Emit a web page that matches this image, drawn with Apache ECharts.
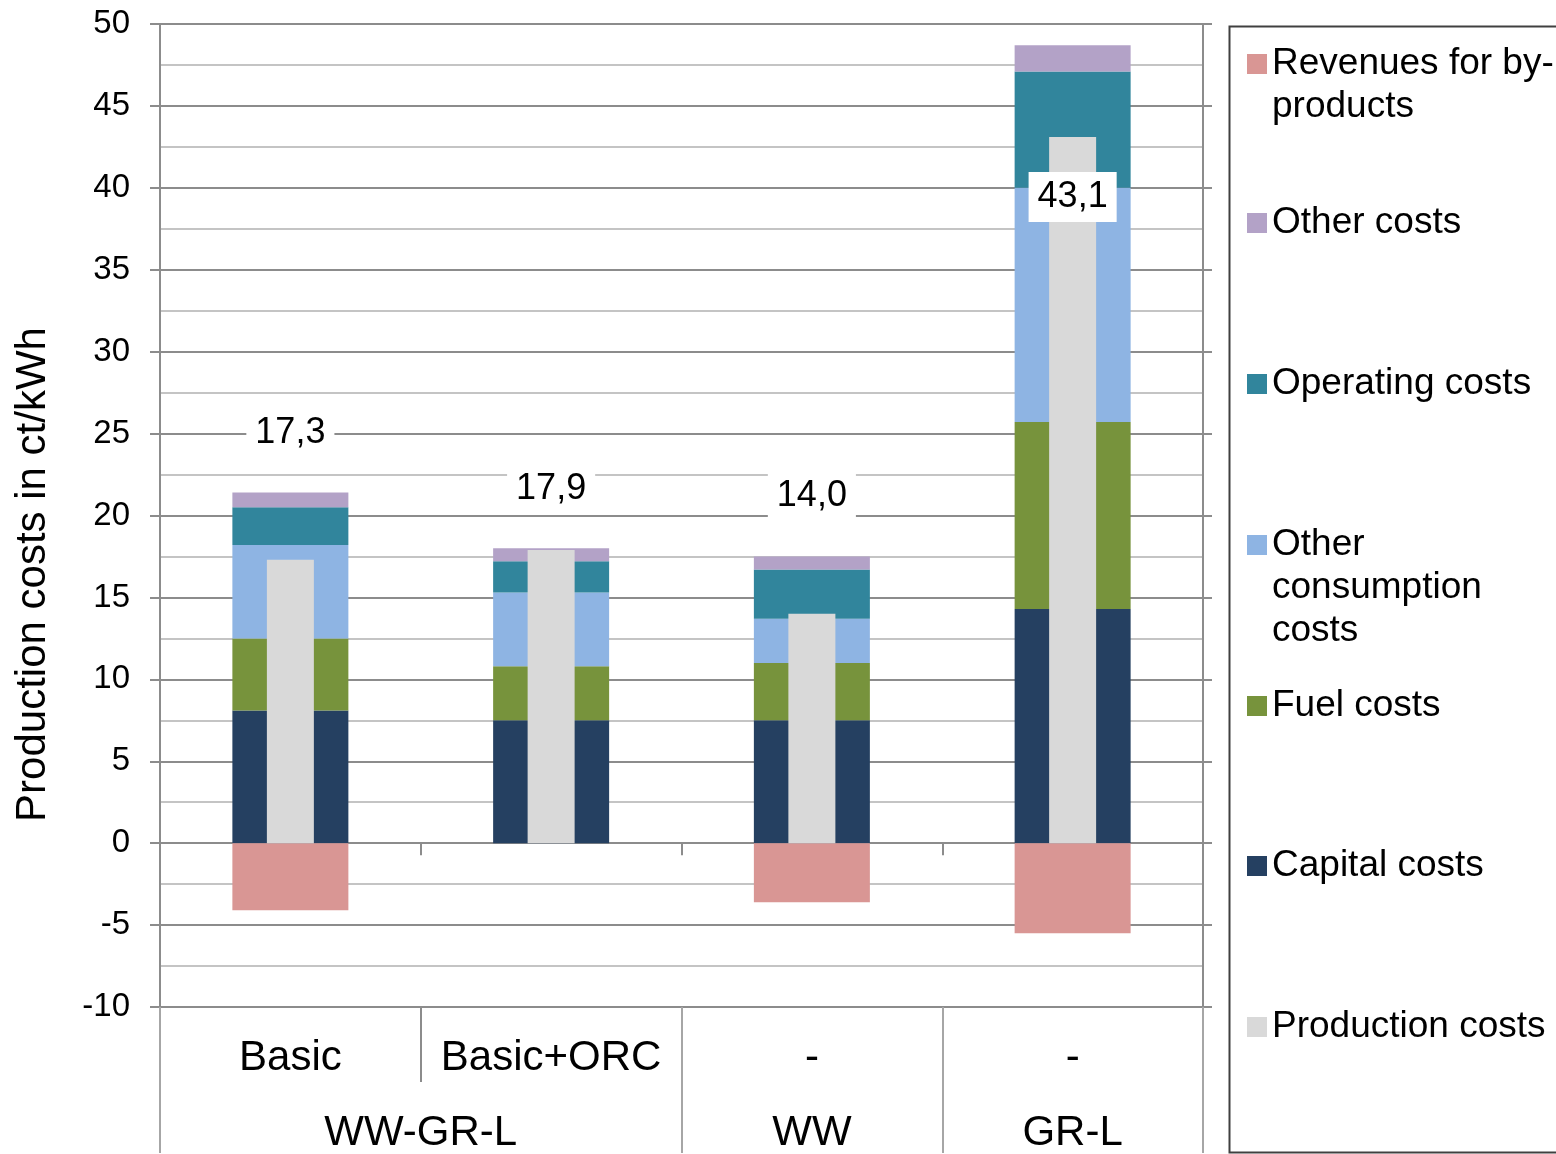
<!DOCTYPE html>
<html>
<head>
<meta charset="utf-8">
<script src="https://cdn.jsdelivr.net/npm/echarts@6/dist/echarts.min.js"></script>
<style>
  html, body { margin: 0; padding: 0; background: #fff; }
  #chart { width: 1556px; height: 1154px; }
</style>
</head>
<body>
<div id="chart"></div>
<script>
// categories (inner level) and groups (outer level)
const categories = ['Basic', 'Basic+ORC', '-', '-'];
const groups = ['WW-GR-L', 'WW', 'GR-L'];
const groupSizes = [2, 1, 1];

// stacked components, ct/kWh
const capitalCosts = [8.1, 7.5, 7.5, 14.3];
const fuelCosts = [4.4, 3.3, 3.5, 11.4];
const otherConsumptionCosts = [5.7, 4.5, 2.7, 14.3];
const operatingCosts = [2.3, 1.9, 3.0, 7.1];
const otherCosts = [0.9, 0.8, 0.8, 1.6];
const revenues = [-4.1, 0, -3.6, -5.5];
const productionCosts = [17.3, 17.9, 14.0, 43.1];

const FONT = '"Liberation Sans", Arial, sans-serif';
const GRID_MAJOR = '#8c8c8c';

// centre of each group on the 0..N outer axis
let acc = 0;
const groupCenters = groupSizes.map(n => { const c = acc + n / 2; acc += n; return c; });
const groupEdges = [0];
groupSizes.forEach(n => groupEdges.push(groupEdges[groupEdges.length - 1] + n));

// vertical nudge of the value boxes, px
const labelShift = [-102, -36, -93, 85];

const chart = echarts.init(document.getElementById('chart'));

function stackSeries(name, data, color) {
  return {
    name: name, type: 'bar', stack: 'cost', data: data,
    xAxisIndex: 0, yAxisIndex: 0,
    barWidth: 116,
    itemStyle: { color: color },
    emphasis: { disabled: true }
  };
}

// one legend per entry so icons line up with the first text line
const legendItems = [
  { name: 'Revenues for by-products', text: '\nRevenues for by-\nproducts', lines: 3, y: 64 },
  { name: 'Other costs', text: 'Other costs', lines: 1, y: 223 },
  { name: 'Operating costs', text: 'Operating costs', lines: 1, y: 384 },
  { name: 'Other consumption costs', text: '\n\nOther\nconsumption\ncosts', lines: 5, y: 545 },
  { name: 'Fuel costs', text: 'Fuel costs', lines: 1, y: 706 },
  { name: 'Capital costs', text: 'Capital costs', lines: 1, y: 866 },
  { name: 'Production costs', text: 'Production costs', lines: 1, y: 1027 }
];
const LH = 43;
const legends = legendItems.map(it => ({
  orient: 'vertical',
  left: 1247,
  top: it.y - it.lines * LH / 2,
  padding: 0,
  itemGap: 0,
  itemWidth: 20,
  itemHeight: 20,
  icon: 'rect',
  selectedMode: false,
  data: [it.name],
  formatter: () => it.text,
  textStyle: { fontSize: 37, lineHeight: LH, color: '#000', fontFamily: FONT }
}));

const option = {
  animation: false,
  textStyle: { fontFamily: FONT },
  grid: { left: 160, right: 353, top: 24, bottom: 146, containLabel: false },
  legend: legends,
  graphic: [{
    type: 'rect', left: 1227, top: 24,
    shape: { width: 400, height: 1126 },
    style: { fill: 'none', stroke: '#404040', lineWidth: 2 }
  }],
  xAxis: [
    { // axis line at zero
      type: 'category', data: categories, position: 'bottom',
      axisLine: { onZero: true, lineStyle: { color: GRID_MAJOR, width: 2 } },
      axisTick: { show: true, length: 12, lineStyle: { color: GRID_MAJOR, width: 2 } },
      axisLabel: { show: false },
      splitLine: { show: false }
    },
    { // overlay axis for the narrow production bars
      type: 'category', data: categories, show: false,
      axisLine: { onZero: false }
    },
    { // inner category labels
      type: 'category', data: categories, position: 'bottom',
      axisLine: { show: false, onZero: false },
      axisTick: { show: true, length: 75, lineStyle: { color: GRID_MAJOR, width: 2 } },
      axisLabel: { fontSize: 42, color: '#000', margin: 30, interval: 0 },
      splitLine: { show: false }
    },
    { // outer group labels
      type: 'value', min: 0, max: categories.length, position: 'bottom',
      axisLine: { show: false, onZero: false },
      axisTick: { show: true, length: 146, customValues: groupEdges, lineStyle: { color: '#a6a6a6', width: 2 } },
      axisLabel: {
        fontSize: 42, color: '#000', margin: 105,
        customValues: groupCenters,
        formatter: v => groups[groupCenters.indexOf(v)]
      },
      splitLine: { show: false }
    }
  ],
  yAxis: [
    {
      type: 'value', min: -10, max: 50, interval: 5, position: 'left',
      name: 'Production costs in ct/kWh', nameLocation: 'middle', nameGap: 106,
      nameTextStyle: { fontSize: 42, color: '#000', padding: [0, 118, 0, 0] },
      axisLine: { show: true, onZero: false, lineStyle: { color: GRID_MAJOR, width: 2 } },
      axisTick: { show: true, length: 10, lineStyle: { color: GRID_MAJOR, width: 2 } },
      axisLabel: { fontSize: 33, color: '#000', margin: 30 },
      splitLine: { show: true, lineStyle: { color: GRID_MAJOR, width: 2 } },
      minorTick: { show: false, splitNumber: 2 },
      minorSplitLine: { show: true, lineStyle: { color: '#c4c4c4', width: 2 } }
    },
    {
      type: 'value', min: -10, max: 50, interval: 5, position: 'right',
      axisLine: { show: true, onZero: false, lineStyle: { color: GRID_MAJOR, width: 2 } },
      axisTick: { show: true, length: 9, lineStyle: { color: GRID_MAJOR, width: 2 } },
      axisLabel: { show: false },
      splitLine: { show: false }
    }
  ],
  series: [
    stackSeries('Capital costs', capitalCosts, '#254061'),
    stackSeries('Fuel costs', fuelCosts, '#77933c'),
    stackSeries('Other consumption costs', otherConsumptionCosts, '#8eb4e3'),
    stackSeries('Operating costs', operatingCosts, '#31859c'),
    stackSeries('Other costs', otherCosts, '#b3a2c7'),
    stackSeries('Revenues for by-products', revenues, '#d99694'),
    {
      name: 'Production costs', type: 'bar',
      xAxisIndex: 1, yAxisIndex: 0,
      barWidth: 47,
      z: 3,
      itemStyle: { color: '#d9d9d9' },
      emphasis: { disabled: true },
      data: productionCosts.map((v, i) => ({ value: v, label: { offset: [0, labelShift[i]] } })),
      label: {
        show: true, position: 'top', distance: 0,
        fontSize: 36, lineHeight: 40, color: '#000',
        backgroundColor: '#fff', padding: [5, 9],
        formatter: p => p.value.toFixed(1).replace('.', ',')
      }
    }
  ]
};

chart.setOption(option);
</script>
</body>
</html>
